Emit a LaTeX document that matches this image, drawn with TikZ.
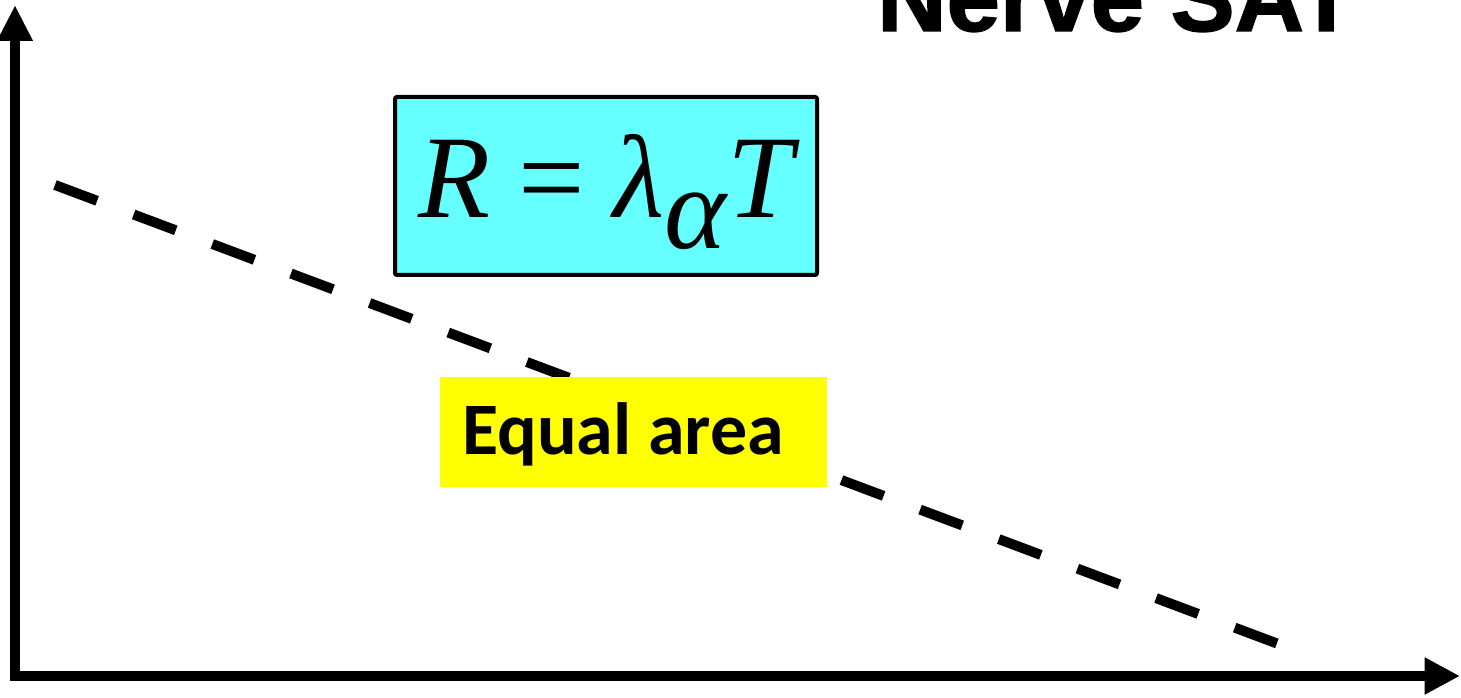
\documentclass[tikz,border=0pt]{standalone}
\usepackage{fontspec}
\setmainfont{Liberation Serif}
\newfontfamily\titlefont[FakeBold=1.5]{Liberation Sans Bold}
\newfontfamily\labfont{Carlito}
\usetikzlibrary{arrows.meta}
\definecolor{boxcyan}{RGB}{102,255,255}
\definecolor{boxyellow}{RGB}{255,255,0}
\tikzset{
  axis/.style={line width=7.5pt, line join=miter},
  dashline/.style={line width=7.5pt, dash pattern=on 33.75pt off 29.25pt},
  formbox/.style={draw=black, line width=3pt, fill=boxcyan, rounded corners=1.5pt, minimum width=316.5pt, minimum height=133.5pt, inner sep=0pt},
  labbox/.style={fill=boxyellow, minimum width=290.25pt, minimum height=82.5pt, inner sep=0pt},
}
\begin{document}
\begin{tikzpicture}[x=0.75pt,y=-0.75pt]
\useasboundingbox (0,0) rectangle (1461,698);
\clip (0,0) rectangle (1461,698);
\coordinate (ytip) at (15,5);
\coordinate (orig) at (15,676);
\coordinate (xtip) at (1460,676);
\coordinate (dA) at (55,185);
\coordinate (dB) at (1281,645);
\draw[dashline] (dA) -- (dB);
\draw[axis, {Triangle[length=27pt,width=25pt]}-{Triangle[length=26.5pt,width=26pt]}] (ytip) -- (orig) -- (xtip);
\node[formbox] (form) at (606,186) {};
\node[anchor=base west, inner sep=0pt, font=\fontsize{88.5pt}{100pt}\selectfont] (formtext) at (418,218)
  {\itshape R\hspace{0.24em}\upshape=\hspace{0.24em}\itshape λ\raisebox{-0.26em}{α}\hspace{0.01em}T};
\node[labbox] (lab) at (633.5,432) {};
\node[anchor=base west, inner sep=0pt, font=\labfont\bfseries\fontsize{55.5pt}{60pt}\selectfont] (labtext) at (462,455) {Equal area};
\node[anchor=base west, inner sep=0pt, font=\titlefont\fontsize{72pt}{80pt}\selectfont] (title) at (877,31) {Nerve SAT};
\end{tikzpicture}
\end{document}
